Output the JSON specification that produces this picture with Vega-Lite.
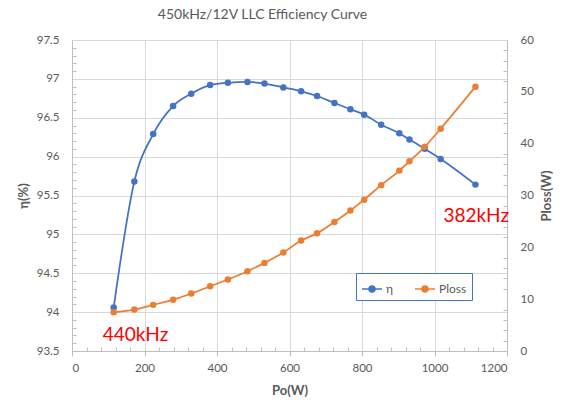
{
  "$schema": "https://vega.github.io/schema/vega-lite/v6.json",
  "width": 435,
  "height": 311,
  "autosize": {"type": "none"},
  "padding": {"left": 72, "top": 40, "right": 57, "bottom": 49},
  "background": "white",
  "title": {"text": "450kHz/12V LLC Efficiency Curve", "font": "Lato", "fontSize": 14, "fontWeight": "normal", "color": "#595959", "offset": 12, "dx": -27},
  "config": {
    "font": "Lato",
    "view": {"stroke": null},
    "axis": {
      "domainColor": "#BFBFBF",
      "tickColor": "#BFBFBF",
      "gridColor": "#D9D9D9",
      "labelColor": "#595959",
      "labelFontSize": 11.5,
      "labelFont": "Lato",
      "titleColor": "#595959",
      "titleFont": "Lato",
      "titleFontSize": 13,
      "titleFontWeight": "bold"
    }
  },
  "data": {
    "values": [
      {"Po": 115, "eta": 94.06, "Ploss": 7.5},
      {"Po": 172, "eta": 95.68, "Ploss": 8.0},
      {"Po": 224, "eta": 96.29, "Ploss": 8.9},
      {"Po": 279, "eta": 96.65, "Ploss": 9.9},
      {"Po": 329, "eta": 96.81, "Ploss": 11.1},
      {"Po": 381, "eta": 96.92, "Ploss": 12.5},
      {"Po": 430, "eta": 96.95, "Ploss": 13.8},
      {"Po": 484, "eta": 96.96, "Ploss": 15.4},
      {"Po": 531, "eta": 96.94, "Ploss": 17.0},
      {"Po": 583, "eta": 96.89, "Ploss": 19.0},
      {"Po": 632, "eta": 96.84, "Ploss": 21.3},
      {"Po": 676, "eta": 96.78, "Ploss": 22.7},
      {"Po": 724, "eta": 96.69, "Ploss": 24.9},
      {"Po": 768, "eta": 96.61, "Ploss": 27.1},
      {"Po": 806, "eta": 96.54, "Ploss": 29.2},
      {"Po": 853, "eta": 96.41, "Ploss": 32.0},
      {"Po": 903, "eta": 96.30, "Ploss": 34.8},
      {"Po": 931, "eta": 96.22, "Ploss": 36.6},
      {"Po": 973, "eta": 96.10, "Ploss": 39.4},
      {"Po": 1017, "eta": 95.97, "Ploss": 42.9},
      {"Po": 1113, "eta": 95.64, "Ploss": 51.0}
    ]
  },
  "encoding": {
    "x": {
      "field": "Po",
      "type": "quantitative",
      "scale": {"domain": [0, 1200], "nice": false, "zero": false},
      "axis": {
        "title": "Po(W)",
        "values": [0, 40, 80, 120, 160, 200, 240, 280, 320, 360, 400, 440, 480, 520, 560, 600, 640, 680, 720, 760, 800, 840, 880, 920, 960, 1000, 1040, 1080, 1120, 1160, 1200],
        "labelExpr": "datum.value % 200 === 0 ? datum.label : ''",
        "format": "d",
        "grid": true,
        "gridOpacity": {"condition": {"test": "datum.value % 200 === 0", "value": 1}, "value": 0},
        "tickSize": {"condition": {"test": "datum.value % 200 === 0", "value": 5}, "value": -4},
        "labelPadding": 6,
        "titlePadding": 11
      }
    }
  },
  "layer": [
    {
      "mark": {"type": "line", "interpolate": "monotone", "strokeWidth": 1.75, "point": {"filled": true, "size": 42}},
      "encoding": {
        "y": {
          "field": "eta",
          "type": "quantitative",
          "scale": {"domain": [93.5, 97.5], "nice": false, "zero": false},
          "axis": {
            "orient": "left",
            "title": "η(%)",
            "titleAngle": 270,
            "format": "~f",
            "values": [93.5, 93.6, 93.7, 93.8, 93.9, 94.0, 94.1, 94.2, 94.3, 94.4, 94.5, 94.6, 94.7, 94.8, 94.9, 95.0, 95.1, 95.2, 95.3, 95.4, 95.5, 95.6, 95.7, 95.8, 95.9, 96.0, 96.1, 96.2, 96.3, 96.4, 96.5, 96.6, 96.7, 96.8, 96.9, 97.0, 97.1, 97.2, 97.3, 97.4, 97.5],
            "labelExpr": "abs(datum.value * 2 - round(datum.value * 2)) < 0.001 ? datum.label : ''",
            "grid": true,
            "gridOpacity": {"condition": {"test": "abs(datum.value * 2 - round(datum.value * 2)) < 0.001", "value": 1}, "value": 0},
            "tickSize": {"condition": {"test": "abs(datum.value * 2 - round(datum.value * 2)) < 0.001", "value": 0}, "value": -4},
            "labelPadding": 13,
            "titlePadding": 6
          }
        },
        "color": {
          "datum": "η",
          "type": "nominal",
          "scale": {"domain": ["η", "Ploss"], "range": ["#4472C4", "#ED7D31"]},
          "legend": {
            "title": null,
            "orient": "none",
            "legendX": 284,
            "legendY": 233,
            "direction": "horizontal",
            "strokeColor": "#4472C4",
            "fillColor": "white",
            "padding": 5,
            "symbolType": "M-1,0H1M-0.3,0A0.3,0.3 0 1,1 0.3,0A0.3,0.3 0 1,1 -0.3,0Z",
            "symbolSize": 400,
            "symbolStrokeWidth": 1.5,
            "labelFontSize": 12,
            "labelColor": "#595959",
            "labelFont": "Lato",
            "labelOffset": 3,
            "columnPadding": 18,
            "encode": {"symbols": {"update": {"fill": {"scale": "color", "field": "value"}}}}
          }
        }
      }
    },
    {
      "mark": {"type": "line", "interpolate": "monotone", "strokeWidth": 1.75, "point": {"filled": true, "size": 42}},
      "encoding": {
        "y": {
          "field": "Ploss",
          "type": "quantitative",
          "scale": {"domain": [0, 60], "nice": false},
          "axis": {
            "orient": "right",
            "title": "Ploss(W)",
            "titleAngle": 270,
            "titleBaseline": "top",
            "values": [0, 2, 4, 6, 8, 10, 12, 14, 16, 18, 20, 22, 24, 26, 28, 30, 32, 34, 36, 38, 40, 42, 44, 46, 48, 50, 52, 54, 56, 58, 60],
            "labelExpr": "datum.value % 10 === 0 ? datum.label : ''",
            "grid": false,
            "tickSize": {"condition": {"test": "datum.value % 10 === 0", "value": 0}, "value": -4},
            "labelPadding": 13,
            "titlePadding": 7
          }
        },
        "color": {"datum": "Ploss", "type": "nominal"}
      }
    },
    {
      "data": {
        "values": [
          {"Po": 175, "eta": 93.70, "label": "440kHz"},
          {"Po": 1115, "eta": 95.24, "label": "382kHz"}
        ]
      },
      "mark": {"type": "text", "color": "#FF0000", "fontSize": 19, "font": "Lato"},
      "encoding": {
        "y": {"field": "eta", "type": "quantitative", "scale": {"domain": [93.5, 97.5], "nice": false, "zero": false}, "axis": null},
        "text": {"field": "label"}
      }
    }
  ],
  "resolve": {"scale": {"y": "independent"}}
}
